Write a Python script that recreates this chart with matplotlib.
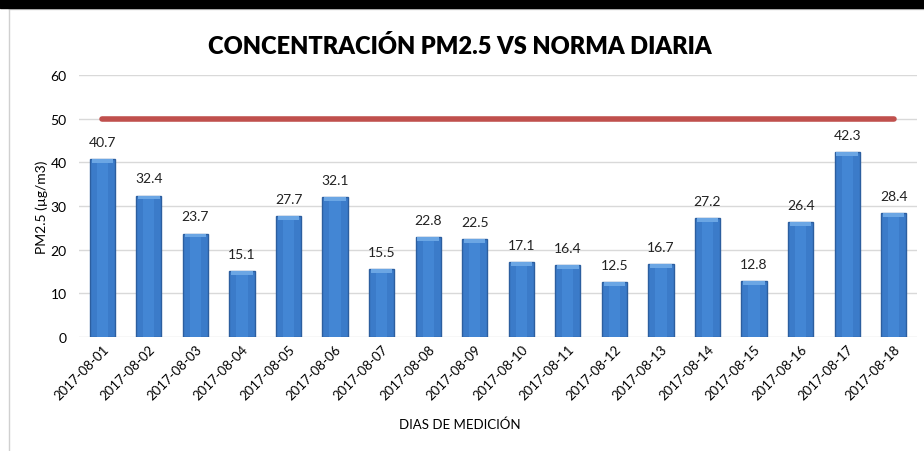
import matplotlib
matplotlib.use("Agg")
import matplotlib.pyplot as plt
from matplotlib.patches import Rectangle

dates = ["2017-08-01", "2017-08-02", "2017-08-03", "2017-08-04", "2017-08-05", "2017-08-06",
         "2017-08-07", "2017-08-08", "2017-08-09", "2017-08-10", "2017-08-11", "2017-08-12",
         "2017-08-13", "2017-08-14", "2017-08-15", "2017-08-16", "2017-08-17", "2017-08-18"]
pm25 = [40.7, 32.4, 23.7, 15.1, 27.7, 32.1, 15.5, 22.8, 22.5, 17.1, 16.4, 12.5,
        16.7, 27.2, 12.8, 26.4, 42.3, 28.4]
norma = [50] * len(dates)
yticks = [0, 10, 20, 30, 40, 50, 60]

plt.rcParams['font.family'] = ['Lato', 'DejaVu Sans']

fig = plt.figure(figsize=(9.24, 4.52), dpi=100)
W, H = 924, 452
ax = fig.add_axes([79 / W, 1 - 338 / H, (917 - 79) / W, (338 - 76) / H])

x = list(range(len(dates)))
bw = 0.54
ax.bar(x, pm25, width=bw, color='#3B7BC9', edgecolor='#2C5E9F', linewidth=1.0, zorder=3)
# inner lighter strip to mimic the gradient
ax.bar(x, pm25, width=bw * 0.45, color='#4386D4', linewidth=0, zorder=3.1)
# light bevel at the top of each bar
bevel = [0.9] * len(pm25)
ax.bar(x, bevel, bottom=[v - b for v, b in zip(pm25, bevel)], width=bw * 0.85,
       color='#6BA6E4', linewidth=0, zorder=3.2)
ax.plot(x, norma, color='#C0504D', linewidth=4, solid_capstyle='round', zorder=4)

for xi, v in zip(x, pm25):
    ax.annotate(f"{v:.1f}", (xi, v), xytext=(0, 8), textcoords='offset points',
                ha='center', va='bottom', fontsize=10, color='#222222')

ax.set_xlim(-0.5, len(dates) - 0.5)
ax.set_ylim(0, 60)
ax.set_yticks(yticks)
ax.set_xticks(x)
ax.set_xticklabels(dates, rotation=45, ha='right', rotation_mode='anchor', fontsize=9.5)
ax.tick_params(axis='y', labelsize=10, length=0, pad=9)
ax.tick_params(axis='x', length=0, pad=4)
ax.grid(axis='y', color='#D9D9D9', linewidth=1, zorder=0)
for s in ax.spines.values():
    s.set_visible(False)

ax.set_ylabel("PM2.5 (µg/m3)", fontsize=10, labelpad=2)
fig.text(460 / W, 1 - 425 / H, "DIAS DE MEDICIÓN", ha='center', va='center', fontsize=9.5)
fig.text(460 / W, 1 - 46 / H, "CONCENTRACIÓN PM2.5 VS NORMA DIARIA", ha='center', va='center',
         fontsize=17, fontweight='heavy')

# frame decorations
fig.patches.append(Rectangle((0, 1 - 9 / H), 1, 9 / H, transform=fig.transFigure,
                             color='black', zorder=10))
fig.lines.append(plt.Line2D([9 / W, 9 / W], [0, 1 - 10 / H], transform=fig.transFigure,
                            color='#D0D0D0', linewidth=1))
fig.lines.append(plt.Line2D([9 / W, 1], [1 - 10 / H, 1 - 10 / H], transform=fig.transFigure,
                            color='#D0D0D0', linewidth=1))

fig.savefig("out.png", dpi=100)
